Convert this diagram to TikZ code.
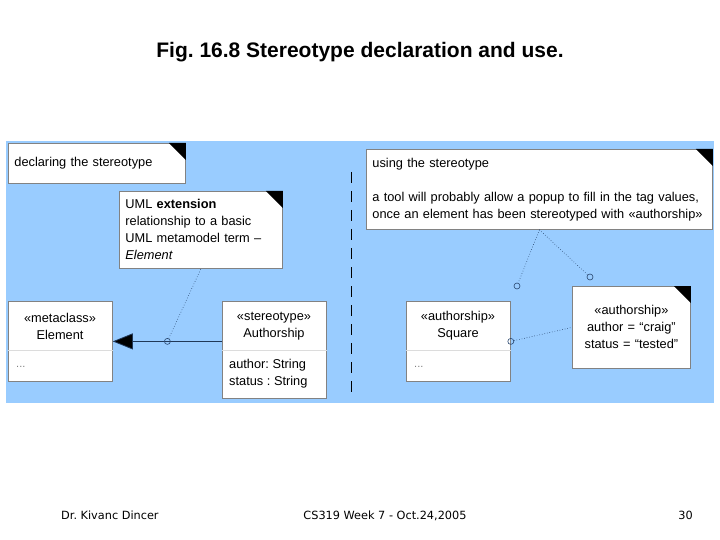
\documentclass[tikz,border=0pt]{standalone}
\usepackage{fontspec}
\setmainfont{Liberation Sans}
\newfontfamily\footfont{DejaVu Sans}
\usetikzlibrary{arrows.meta}
\definecolor{panelblue}{RGB}{153,204,255}
\definecolor{boxgray}{RGB}{130,130,130}
\definecolor{divgray}{RGB}{220,220,220}
\definecolor{linkblue}{RGB}{40,70,110}
\newcommand{\dogear}[1]{\fill (#1.north east) -- ++(-17,0) -- ++(17,17) -- cycle;}
\frenchspacing

\begin{document}
\begin{tikzpicture}[x=1pt,y=-1pt]
    \tikzset{note/.style = {shape=rectangle,draw=boxgray,fill=white,anchor=north west,inner sep=0pt,line width=0.8pt,font=\fontsize{12.8}{17}\selectfont}}
    \tikzset{classbox/.style = {shape=rectangle,draw=boxgray,fill=white,anchor=north west,inner sep=0pt,line width=0.8pt}}
    \tikzset{label2/.style = {shape=rectangle,draw=none,inner sep=0pt,align=center,font=\fontsize{12.8}{17}\selectfont}}
    \tikzset{anchorpt/.style = {shape=circle,draw=linkblue,inner sep=0pt,minimum size=6pt,line width=0.6pt}}
    \tikzset{tether/.style = {draw=linkblue,line width=0.6pt,dotted}}
    \tikzset{extarrow/.style = {draw=linkblue!80!black,line width=0.8pt,-{Triangle[length=20pt,width=16pt,fill=black]}}}
    \tikzset{divider/.style = {draw=divgray,line width=0.6pt}}
    \tikzset{footer/.style = {draw=none,inner sep=0pt,font=\footfont\fontsize{11.3}{13}\selectfont}}

    % page and panel
    \useasboundingbox (0,0) rectangle (720,540);
    \fill[white] (0,0) rectangle (720,540);
    \fill[panelblue] (6,141) rectangle (714,403);

    \node[font=\fontsize{21}{24}\selectfont\bfseries] (title) at (360,52) {Fig. 16.8 Stereotype declaration and use.};

    % notes

    \node[note,minimum width=177pt,minimum height=40pt,text width=165pt,align=left] (decl) at (8,143) {declaring the stereotype};
    \dogear{decl}
    \node[note,minimum width=163pt,minimum height=77pt,text width=151pt,align=left] (extnote) at (119,191) {UML \textbf{extension}\\relationship to a basic\\UML metamodel term --\\\textit{Element}};
    \dogear{extnote}
    \node[note,minimum width=346pt,minimum height=80pt,text width=334pt,align=left] (usage) at (366,149) {using the stereotype\\[17pt]a tool will probably allow a popup to fill in the tag values,\\once an element has been stereotyped with «authorship»};
    \dogear{usage}
    \node[note,minimum width=118pt,minimum height=82pt,text width=118pt,align=center] (tag) at (572,286) {«authorship»\\author = “craig”\\status = “tested”};
    \dogear{tag}

    % classes

    \node[classbox,minimum width=104pt,minimum height=80pt] (elem) at (8,301) {};
    \draw[divider] (elem.west |- 0,350) -- (elem.east |- 0,350);
    \node[label2] (elemname) at (60,326) {«metaclass»\\Element};
    \node[label2,anchor=west,text=gray] (elemdots) at (16,367) {\fontsize{11}{12}\selectfont...};

    \node[classbox,minimum width=104pt,minimum height=97pt] (auth) at (222,301) {};
    \draw[divider] (auth.west |- 0,350) -- (auth.east |- 0,350);
    \node[label2] (authname) at (274,326) {«stereotype»\\Authorship};
    \node[label2,anchor=west,align=left] (authattr) at (229,373.5) {author: String\\status : String};

    \node[classbox,minimum width=104pt,minimum height=80pt] (sq) at (406,301) {};
    \draw[divider] (sq.west |- 0,350) -- (sq.east |- 0,350);
    \node[label2] (sqname) at (458,326) {«authorship»\\Square};
    \node[label2,anchor=west,text=gray] (sqdots) at (414,367) {\fontsize{11}{12}\selectfont...};

    % connectors

    \draw[extarrow] (auth.west |- elem.east) -- node[anchorpt] (c1) {} (elem.east);
    \draw[tether] (c1) -- (extnote.south);

    \node[anchorpt] (c2) at (517,286) {};
    \node[anchorpt] (c3) at (590,277) {};
    \node[anchorpt] (c4) at (sq.east) {};
    \draw[tether] (usage.south) -- (c2);
    \draw[tether] (usage.south) -- (c3);
    \draw[tether] (c4) -- (tag.west);

    \coordinate (divtop) at (351,172);
    \coordinate (divbot) at (351,400);
    \draw[line width=1pt,dash pattern=on 11pt off 8pt] (divtop) -- (divbot);

    % footer
    \node[footer,anchor=base west] (who) at (61,519) {Dr. Kivanc Dincer};
    \node[footer,anchor=base] (course) at (385,519) {CS319 Week 7 - Oct.24,2005};
    \node[footer,anchor=base east] (page) at (693,519) {30};
\end{tikzpicture}
\end{document}
